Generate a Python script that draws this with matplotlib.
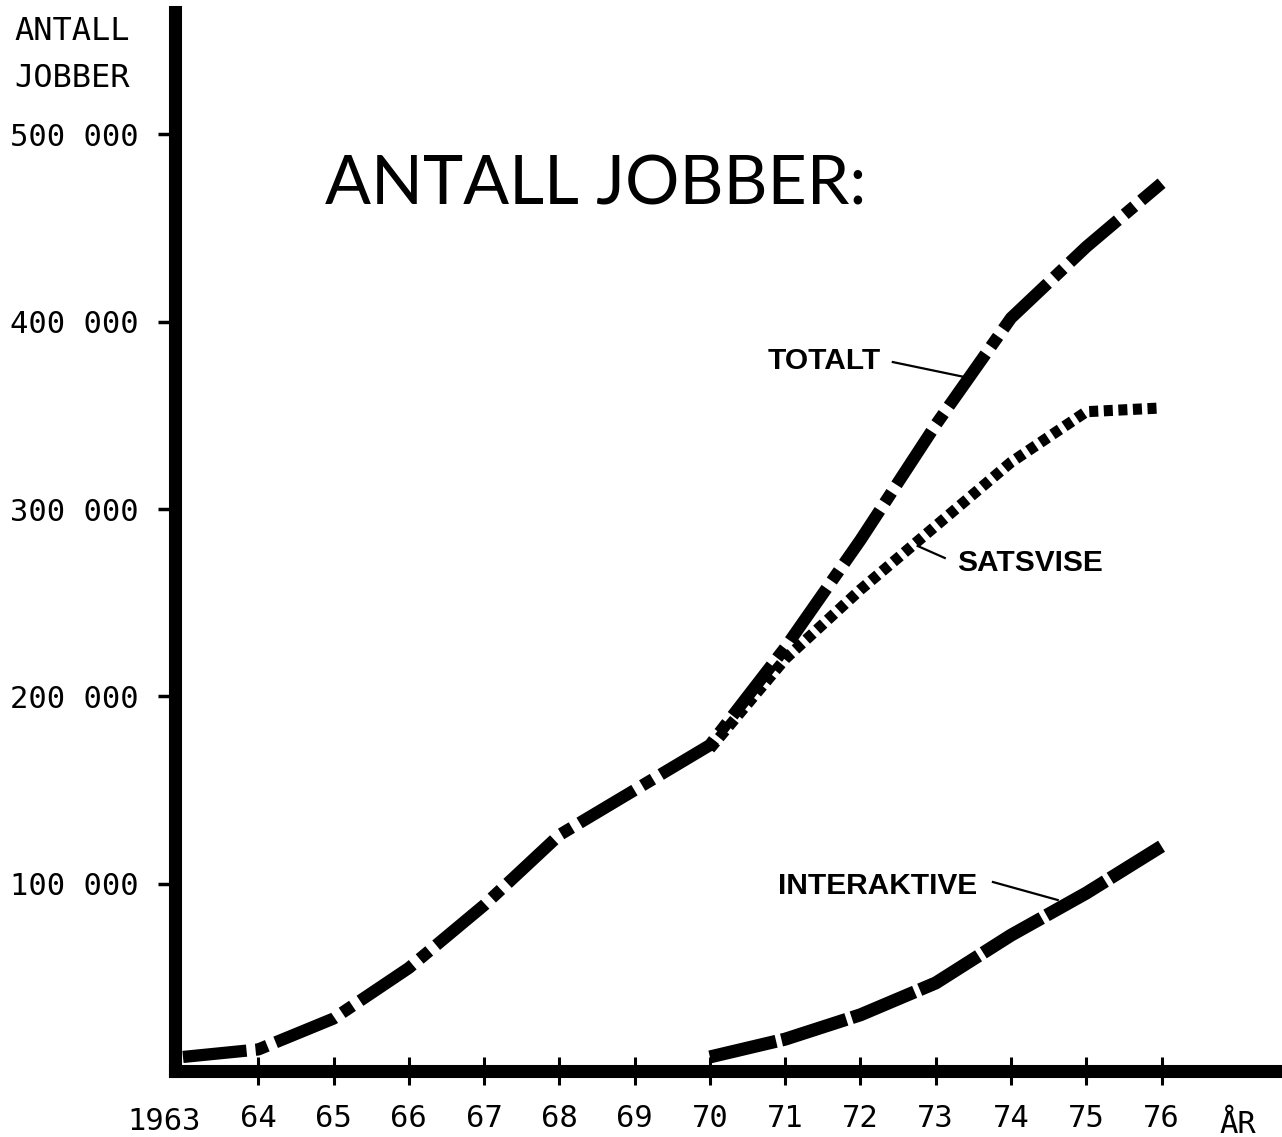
import matplotlib
matplotlib.use('Agg')
import matplotlib.pyplot as plt

# Data
years_total = [1963, 1964, 1965, 1966, 1967, 1968, 1969, 1970, 1971, 1972, 1973, 1974, 1975, 1976]
totalt = [7500, 11500, 28000, 55000, 88500, 126000, 150000, 174000, 226000, 283500, 345000, 402000, 440000, 474000]

years_split = [1970, 1971, 1972, 1973, 1974, 1975, 1976]
satsvise = [172000, 220000, 257000, 291000, 325000, 352000, 354000]
interaktive = [7500, 17000, 30000, 47000, 72500, 95000, 120000]

xtick_years = [1964, 1965, 1966, 1967, 1968, 1969, 1970, 1971, 1972, 1973, 1974, 1975, 1976]
xtick_labels = ['64', '65', '66', '67', '68', '69', '70', '71', '72', '73', '74', '75', '76']
ytick_values = [100000, 200000, 300000, 400000, 500000]
ytick_labels = ['100 000', '200 000', '300 000', '400 000', '500 000']

plt.rcParams['lines.scale_dashes'] = False
mono = 'DejaVu Sans Mono'

fig = plt.figure(figsize=(12.82, 11.37), dpi=100)
ax = fig.add_axes([175 / 1282, 66 / 1137, 1107 / 1282, 1059 / 1137])

ax.plot(years_total, totalt, color='black', lw=8.8, dashes=(46, 6.5, 9.0, 6.5),
        dash_capstyle='butt', solid_capstyle='butt')
ax.plot(years_split, satsvise, color='black', lw=8.0, dashes=(6.5, 4.0),
        dash_capstyle='butt')
ax.plot(years_split, interaktive, color='black', lw=9.4, dashes=(49, 4.0),
        dash_capstyle='butt')

ax.set_xlim(1962.894, 1977.6)
ax.set_ylim(0, 565400)

for s in ['top', 'right']:
    ax.spines[s].set_visible(False)
for s in ['left', 'bottom']:
    ax.spines[s].set_linewidth(9.4)
    ax.spines[s].set_capstyle('projecting')

ax.set_xticks(xtick_years)
ax.set_xticklabels(xtick_labels, family=mono, fontsize=22)
ax.set_yticks(ytick_values)
ax.set_yticklabels(ytick_labels, family=mono, fontsize=22)
ax.tick_params(axis='x', direction='inout', length=20, width=2.2, pad=14)
ax.tick_params(axis='y', direction='out', length=12, width=2.5, pad=14)

# extra axis labels
ax.text(1962.75, -27200, '1963', family=mono, fontsize=22, ha='center', va='center', clip_on=False)
ax.text(1977.01, -33000, 'ÅR', family=mono, fontsize=22, ha='center', va='baseline', clip_on=False)
fig.text(14 / 1282, 1 - 40 / 1137, 'ANTALL', family=mono, fontsize=23, va='baseline')
fig.text(14 / 1282, 1 - 87 / 1137, 'JOBBER', family=mono, fontsize=23, va='baseline')

# title
ax.text(1964.886, 462400, 'ANTALL JOBBER:', family=['Lato', 'DejaVu Sans'], fontweight='normal',
        fontsize=49, ha='left', va='baseline')

# series labels with leader lines
lab = dict(family=['Liberation Sans', 'DejaVu Sans'], fontweight='bold', fontsize=21.5,
           va='center', ha='left')
ax.text(1970.77, 379000, 'TOTALT', **lab)
ax.plot([1972.43, 1973.385], [378500, 370500], color='black', lw=1.6)
ax.text(1973.28, 271200, 'SATSVISE', **lab)
ax.plot([1973.12, 1972.76], [273900, 280300], color='black', lw=1.6)
ax.text(1970.90, 98800, 'INTERAKTIVE', **lab)
ax.plot([1973.76, 1974.62], [100900, 91300], color='black', lw=1.6)

plt.savefig('out.png', dpi=100)
